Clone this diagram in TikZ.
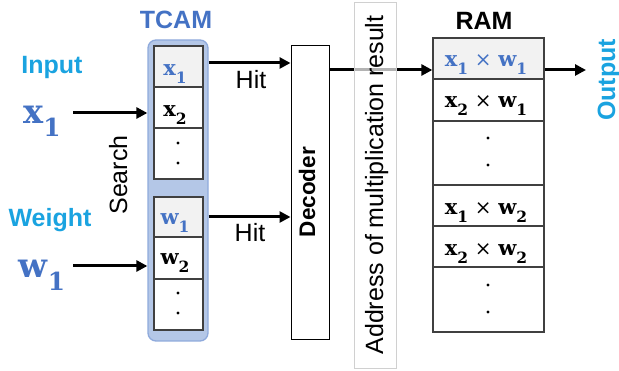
\documentclass[tikz,border=0pt]{standalone}
\usepackage[no-math]{fontspec}
\setmainfont{Liberation Sans}
\newfontfamily\dvs{DejaVu Serif}
\usetikzlibrary{arrows.meta}
\definecolor{tblue}{HTML}{4472C4}
\definecolor{cyanlab}{HTML}{1AA3E0}
\definecolor{boxfill}{HTML}{B4C7E7}
\definecolor{boxdraw}{HTML}{8FAADC}
\definecolor{cellgray}{HTML}{F2F2F2}
\definecolor{celldraw}{HTML}{404040}
\definecolor{stripdraw}{HTML}{D0D0D0}
\newcommand\fsz{\fontsize{25}{30}\selectfont}
% variable with subscript: #1 letter, #2 index
\newcommand\vb[2]{{\bfseries #1}\raisebox{-0.38em}{\fontsize{15.5}{16}\selectfont\bfseries #2}}
\newcommand\tms{\ \raisebox{0.03em}{\fontsize{20}{21}\selectfont\mdseries ×}\ }
\begin{document}
\begin{tikzpicture}[x=1pt,y=-1pt,
  lab/.style={font=\fsz, anchor=base, inner sep=0pt},
  blab/.style={font=\fsz\bfseries, anchor=base, inner sep=0pt},
  rlab/.style={font=\fsz, anchor=base, inner sep=0pt, rotate=90},
  cell/.style={draw=celldraw, line width=1.3pt, fill=white, inner sep=0pt, minimum width=49pt},
  rcell/.style={draw=celldraw, line width=1.3pt, fill=white, inner sep=0pt, minimum width=111pt},
  arr/.style={line width=3pt, -{Triangle[length=11pt,width=11pt]}},
  dotn/.style={circle, fill=black, inner sep=0pt, minimum size=3.4pt},
  mth/.style={font=\dvs\fontsize{21}{25}\selectfont, anchor=base, inner sep=0pt}]
\useasboundingbox (0,0) rectangle (619,371);

% labels left
\node[blab, text=cyanlab] (input) at (52,74) {Input};
\node[blab, text=cyanlab] (weight) at (50,227) {Weight};
\node[mth, text=tblue, scale=1.6] (xlab) at (42,124) {\vb{x}{1}};
\node[mth, text=tblue, scale=1.6] (wlab) at (42,278) {\vb{w}{1}};
\node[blab, text=tblue] (tcamlab) at (176,29) {TCAM};
\node[blab] (ramlab) at (484,30) {RAM};
\node[rlab] (search) at (127,175) {Search};

% TCAM
\node[draw=boxdraw, fill=boxfill, line width=1.3pt, rounded corners=8pt,
      minimum width=60pt, minimum height=301pt, inner sep=0pt] (tcam) at (178,190.5) {};
\node[cell, fill=cellgray, minimum height=41pt] (c1) at (178.5,66.5) {};
\node[cell, minimum height=41pt] (c2) at (178.5,107.5) {};
\node[cell, minimum height=51pt] (c3) at (178.5,153.5) {};
\node[cell, fill=cellgray, minimum height=40pt] (d1) at (178.5,217) {};
\node[cell, minimum height=42pt] (d2) at (178.5,258) {};
\node[cell, minimum height=51pt] (d3) at (178.5,304.5) {};
\node[mth, text=tblue] (t1) at (175,76) {\vb{x}{1}};
\node[mth] (t2) at (175,117) {\vb{x}{2}};
\node[mth, text=tblue] (t3) at (175,225) {\vb{w}{1}};
\node[mth] (t4) at (175,265) {\vb{w}{2}};
\node[dotn] (p1) at (178,143) {};
\node[dotn] (p2) at (178,163) {};
\node[dotn] (p3) at (178,293) {};
\node[dotn] (p4) at (178,313) {};

% Decoder
\node[draw=black, fill=white, line width=1pt, minimum width=38pt, minimum height=294pt, inner sep=0pt] (dec) at (310,193) {};
\node[rlab, font=\fontsize{22.5}{27}\selectfont\bfseries] (declab) at (315,192) {Decoder};

% RAM
\node[rcell, fill=cellgray, minimum height=41pt] (r1) at (488.5,58.5) {};
\node[rcell, minimum height=42pt] (r2) at (488.5,100) {};
\node[rcell, minimum height=64pt] (r3) at (488.5,153) {};
\node[rcell, minimum height=41pt] (r4) at (488.5,205.5) {};
\node[rcell, minimum height=41pt] (r5) at (488.5,246.5) {};
\node[rcell, minimum height=65pt] (r6) at (488.5,299.5) {};
\node[mth, text=tblue] (m1) at (486,67) {\vb{x}{1}\tms\vb{w}{1}};
\node[mth] (m2) at (486,108) {\vb{x}{2}\tms\vb{w}{1}};
\node[mth] (m4) at (486,215) {\vb{x}{1}\tms\vb{w}{2}};
\node[mth] (m5) at (486,256) {\vb{x}{2}\tms\vb{w}{2}};
\node[dotn] (q1) at (488,138) {};
\node[dotn] (q2) at (488,165) {};
\node[dotn] (q3) at (488,285) {};
\node[dotn] (q4) at (488,312) {};

% arrows
\coordinate (xin) at (73,113);
\coordinate (win) at (73,266);
\coordinate (h1) at (250,63);
\coordinate (h2) at (250,217);
\coordinate (a1) at (380,70);
\coordinate (outend) at (586,70);
\draw[arr] (xin) -- (xin -| tcam.west);
\draw[arr] (win) -- (win -| tcam.west);
\draw[arr] (h1 -| tcam.east) -- (h1 -| dec.west);
\draw[arr] (h2 -| tcam.east) -- (h2 -| dec.west);
\draw[arr] (a1 -| dec.east) -- (a1 -| r1.west);
\draw[arr] (a1 -| r1.east) -- (outend);
\node[lab] (hit1) at (251,89) {Hit};
\node[lab] (hit2) at (250,242) {Hit};

% address strip
\node[draw=stripdraw, fill=white, fill opacity=0.7, line width=0.8pt, minimum width=42pt, minimum height=366pt, inner sep=0pt] (strip) at (375,185) {};
\node[rlab] (addr) at (383,185) {Address of multiplication result};

% output
\node[rlab, font=\fsz\bfseries, text=cyanlab] (outlab) at (615,80) {Output};
\end{tikzpicture}
\end{document}
